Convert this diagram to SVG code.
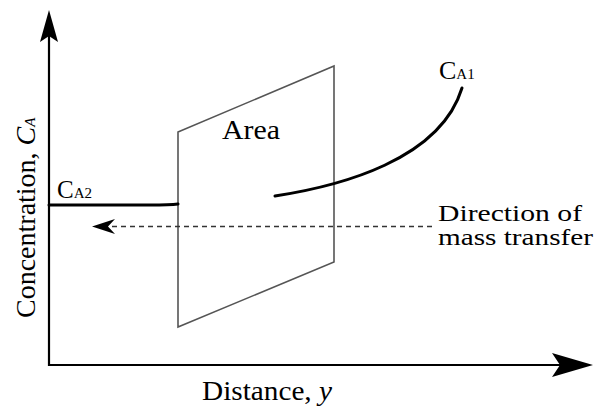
<svg xmlns="http://www.w3.org/2000/svg" width="596" height="408" viewBox="0 0 596 408">
<style>
  .t { font-family: "Liberation Serif", "Times New Roman", serif; fill: #000; }
  .axis { stroke: #000; stroke-width: 2.2; fill: none; }
  .plane { stroke: #555; stroke-width: 1.6; fill: none; }
  .curve { stroke: #000; stroke-width: 3; fill: none; stroke-linecap: round; }
  .dash { stroke: #333; stroke-width: 1.4; stroke-dasharray: 5 4; fill: none; }
</style>
<rect width="596" height="408" fill="#fff"/>
<g id="axes">
  <line class="axis" x1="49" y1="366" x2="49" y2="36"/>
  <polygon points="49,10 40,42 49,36 58,42" fill="#000"/>
  <line class="axis" x1="48" y1="365" x2="560" y2="365"/>
  <polygon points="593,365 552,353 560,365 552,377" fill="#000"/>
</g>
<g id="plane">
  <polygon class="plane" points="178,132 334,66 334,262 178,327"/>
  <text class="t" x="222" y="139" font-size="27" textLength="58" lengthAdjust="spacingAndGlyphs">Area</text>
</g>
<g id="connectors">
  <path class="curve" d="M49,205 L150,205 Q170,205 178,204"/>
  <path class="curve" d="M275,196 C340,186 440,160 462,88"/>
  <line class="dash" x1="112" y1="226.5" x2="432" y2="226.5"/>
  <polygon points="92,226.5 115,219 108,226.5 115,234" fill="#000"/>
</g>
<g id="labels">
  <text class="t" x="439" y="79" font-size="26">C<tspan font-size="15">A1</tspan></text>
  <text class="t" x="57" y="198" font-size="25">C<tspan font-size="15">A2</tspan></text>
  <text class="t" x="438" y="221" font-size="24" textLength="144" lengthAdjust="spacingAndGlyphs">Direction of</text>
  <text class="t" x="438" y="245" font-size="24" textLength="155" lengthAdjust="spacingAndGlyphs">mass transfer</text>
  <text class="t" x="202" y="400" font-size="27" textLength="130" lengthAdjust="spacingAndGlyphs">Distance, <tspan font-style="italic">y</tspan></text>
  <text class="t" transform="translate(35,318) rotate(-90)" font-size="28">Concentration, <tspan font-style="italic">C</tspan><tspan font-style="italic" font-size="15">A</tspan></text>
</g>
</svg>
